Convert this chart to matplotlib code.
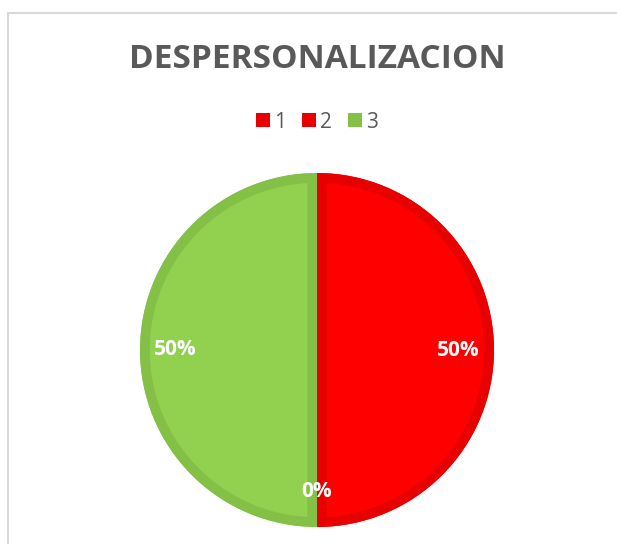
import matplotlib.pyplot as plt
from matplotlib.patches import Patch, Wedge
from matplotlib.lines import Line2D

# data
labels = ["1", "2", "3"]
values = [50, 0, 50]
fill_colors = ["#FF0000", "#FF0000", "#92D050"]
edge_colors = ["#E60000", "#E60000", "#84BF46"]
title = "DESPERSONALIZACION"

W, H = 617, 544
fig = plt.figure(figsize=(W / 100, H / 100), dpi=100)
ax = fig.add_axes([0, 0, 1, 1])

# pie centre / radius in pixel units
cx, cy, r = 317, H - 350, 177

wedges, texts, autotexts = ax.pie(
    values, colors=fill_colors, startangle=90, counterclock=False,
    center=(cx, cy), radius=r, autopct="%1.0f%%", pctdistance=0.8,
    wedgeprops=dict(linewidth=0),
    textprops=dict(color="white", fontsize=15, fontweight="bold",
                   family="Open Sans", zorder=5),
)
# darker inner rim on each slice: a stroke clipped to the slice itself
for w, ec in zip(wedges, edge_colors):
    rim = Wedge(w.center, w.r, w.theta1, w.theta2, facecolor="none",
                edgecolor=ec, linewidth=14, zorder=3)
    ax.add_patch(rim)
    rim.set_clip_path(w)

ax.set_xlim(0, W)
ax.set_ylim(0, H)
ax.set_aspect("equal")
ax.axis("off")

fig.text(cx / W, 1 - 68 / H, title, ha="center", va="baseline",
         fontsize=24, fontweight="bold", color="#595959", family="Open Sans")

handles = [Patch(facecolor=c, edgecolor="none") for c in edge_colors]
fig.legend(handles, labels, loc="center", bbox_to_anchor=(cx / W, 1 - 122 / H),
           ncol=3, frameon=False, handlelength=0.67, handleheight=0.67,
           handletextpad=0.2, columnspacing=0.75,
           prop=dict(family="Open Sans", size=15), labelcolor="#595959")

# chart border (only top and left edges are visible in the crop)
fig.add_artist(Line2D([7.5 / W, 7.5 / W, 1.0], [0.0, 1 - 12.5 / H, 1 - 12.5 / H],
                      transform=fig.transFigure, color="#D9D9D9", linewidth=1.5))

fig.savefig("out.png", dpi=100, facecolor="white")
